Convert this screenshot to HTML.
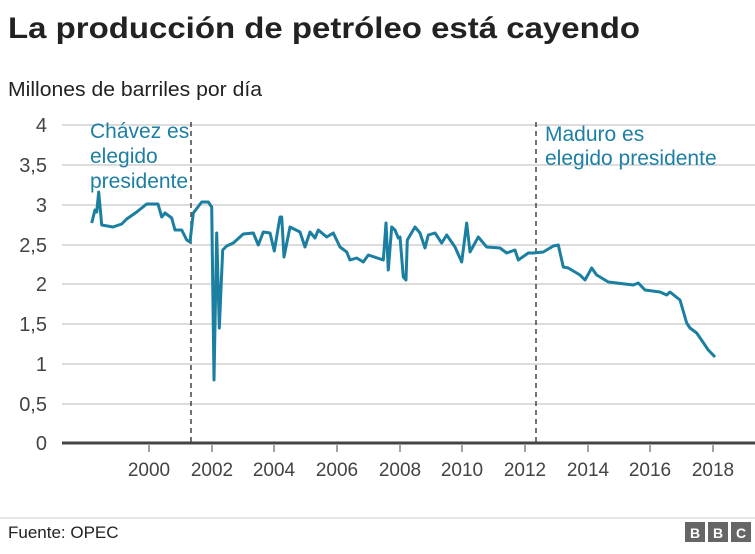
<!DOCTYPE html>
<html><head><meta charset="utf-8"><style>
body{margin:0;background:#fff;width:755px;height:549px;overflow:hidden;font-family:"Liberation Sans",Arial,sans-serif}
</style></head><body>
<svg width="755" height="549" xmlns="http://www.w3.org/2000/svg" font-family="Liberation Sans, Arial, sans-serif">
<text x="8" y="38" font-size="30" font-weight="bold" fill="#222" textLength="632" lengthAdjust="spacingAndGlyphs">La producción de petróleo está cayendo</text>
<text x="8" y="96" font-size="20" fill="#222" textLength="254" lengthAdjust="spacingAndGlyphs">Millones de barriles por día</text>
<g stroke="#dcdcdc" stroke-width="2">
<line x1="62" x2="755" y1="125" y2="125"/><line x1="62" x2="755" y1="165" y2="165"/><line x1="62" x2="755" y1="205" y2="205"/><line x1="62" x2="755" y1="245" y2="245"/><line x1="62" x2="755" y1="284" y2="284"/><line x1="62" x2="755" y1="324" y2="324"/><line x1="62" x2="755" y1="364" y2="364"/><line x1="62" x2="755" y1="404" y2="404"/>
</g>
<line x1="62" x2="755" y1="443" y2="443" stroke="#444" stroke-width="3"/>
<g font-size="20" fill="#444" text-anchor="end">
<text x="47" y="132">4</text><text x="47" y="172">3,5</text><text x="47" y="212">3</text><text x="47" y="252">2,5</text><text x="47" y="291">2</text><text x="47" y="331">1,5</text><text x="47" y="371">1</text><text x="47" y="411">0,5</text><text x="47" y="450">0</text>
</g>
<g stroke="#444" stroke-width="1"><line x1="149" x2="149" y1="445" y2="452"/><line x1="212" x2="212" y1="445" y2="452"/><line x1="274" x2="274" y1="445" y2="452"/><line x1="337" x2="337" y1="445" y2="452"/><line x1="400" x2="400" y1="445" y2="452"/><line x1="462" x2="462" y1="445" y2="452"/><line x1="525" x2="525" y1="445" y2="452"/><line x1="588" x2="588" y1="445" y2="452"/><line x1="650" x2="650" y1="445" y2="452"/><line x1="713" x2="713" y1="445" y2="452"/></g>
<g font-size="19" fill="#444" text-anchor="middle">
<text x="149" y="476">2000</text><text x="212" y="476">2002</text><text x="274" y="476">2004</text><text x="337" y="476">2006</text><text x="400" y="476">2008</text><text x="462" y="476">2010</text><text x="525" y="476">2012</text><text x="588" y="476">2014</text><text x="650" y="476">2016</text><text x="713" y="476">2018</text>
</g>
<g stroke="#444" stroke-width="1.5" stroke-dasharray="5,4"><line x1="191" x2="191" y1="122" y2="443"/><line x1="536" x2="536" y1="122" y2="443"/></g>
<g font-size="21" fill="#1d7fa3">
<text x="90" y="138">Chávez es</text><text x="90" y="163">elegido</text><text x="90" y="188">presidente</text>
<text x="545" y="141">Maduro es</text><text x="545" y="165">elegido presidente</text>
</g>
<polyline fill="none" stroke="#1a7fa0" stroke-width="3" stroke-linejoin="round" points="91.7,223 95,210 96.7,212 98.7,192 101.7,225 113,227 121.7,224 126.7,219 136.7,212 146.7,204 158,204 161.7,217 165,213 171.7,218 175,230 181.7,230 186.7,240 190,242 193.3,213 201.7,202 208.3,202 211.7,207 214,380 216.7,233 219.3,328 222.7,250 226.7,246 233.3,243 243.3,234 253.3,233 258.3,245 263.3,232 270,233 274.3,251 280,217 281.7,217 284,257 290,227 300,232 305,247 310,232 315,238 318.3,230 326.7,237 333.3,233 340,247 346.7,252 350,260 356.7,258 363.3,262 368.3,255 383.3,260 386,223 388.3,270 391.7,227 395,230 398.3,238 400,237 403.3,277 406,280 407.3,240 415,227 420,233 425,248 428.3,235 435,233 441.7,243 446.7,235 455,247 461.7,262 466.7,223 470,252 478.3,237 486.7,247 500,248 506.7,253 515,250 518.3,260 528.3,253 533.3,253 543.3,252 553.3,246 558.3,245 563.3,267 568.3,268 580,275 585,280 591.7,268 596.7,275 608.3,282 633.3,285 638.3,283 645,290 660,292 666.7,295 670,292 680,300 686.7,323 690,328 696.7,333 708.3,350 715,357"/>
<line x1="0" x2="755" y1="518" y2="518" stroke="#ccc" stroke-width="1"/>
<text x="8" y="538" font-size="17" fill="#222">Fuente: OPEC</text>
<g font-size="14" font-weight="bold" fill="#fff" text-anchor="middle">
<rect x="685" y="522" width="20" height="20" fill="#666"/><text x="695" y="538">B</text>
<rect x="708" y="522" width="20" height="20" fill="#666"/><text x="718" y="538">B</text>
<rect x="731" y="522" width="20" height="20" fill="#666"/><text x="741" y="538">C</text>
</g>
</svg>
</body></html>
